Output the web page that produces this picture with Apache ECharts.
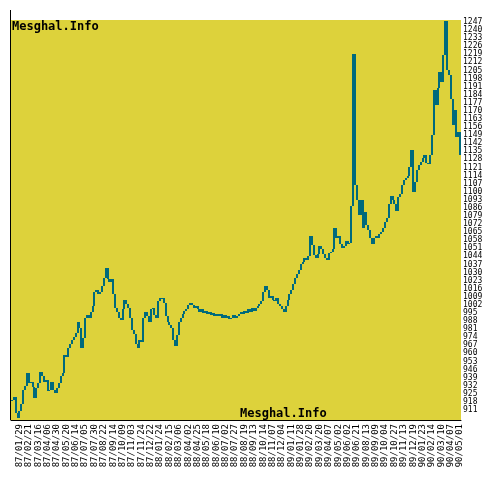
<!DOCTYPE html>
<html>
<head>
<meta charset="utf-8">
<script src="https://cdn.jsdelivr.net/npm/echarts@6/dist/echarts.min.js"></script>
<style>
html, body { margin: 0; padding: 0; background: #fff; }
#chart { width: 500px; height: 500px; }
</style>
</head>
<body>
<div id="chart"></div>
<script>
// date labels shown under the axis, one every 5 points
const dates = ['87/01/29','87/02/21','87/03/16','87/04/06','87/04/30','87/05/20','87/06/14','87/07/05','87/07/30','87/08/22',
    '87/09/14','87/10/09','87/11/03','87/11/24','87/12/22','88/01/24','88/02/15','88/03/06','88/04/02','88/04/25',
    '88/05/18','88/06/10','88/07/02','88/07/27','88/08/19','88/09/13','88/10/14','88/11/07','88/12/04','89/01/11',
    '89/01/28','89/02/20','89/03/20','89/04/07','89/05/02','89/06/02','89/06/21','89/08/13','89/09/09','89/10/04',
    '89/10/27','89/11/13','89/12/19','90/01/23','90/02/14','90/03/10','90/04/07','90/05/01']

const priceTicks = [911, 918, 925, 932, 939, 946, 953, 960, 967, 974, 981, 988, 995, 1002, 1009, 1016, 1023,
    1030, 1037, 1044, 1051, 1058, 1065, 1072, 1079, 1086, 1093, 1100, 1107, 1114, 1121, 1128, 1135, 1142,
    1149, 1156, 1163, 1170, 1177, 1184, 1191, 1198, 1205, 1212, 1219, 1226, 1233, 1240, 1247]

const prices = [
    920, 922, 908, 904, 910, 916, 928, 932, 943, 934,
    935, 931, 921, 930, 934, 944, 940, 935, 937, 927,
    928, 935, 928, 926, 930, 934, 940, 943, 959, 957,
    965, 968, 972, 974, 978, 987, 982, 965, 973, 991,
    993, 991, 996, 1001, 1013, 1015, 1011, 1013, 1018, 1025,
    1034, 1024, 1022, 1024, 1011, 999, 996, 991, 989, 998,
    1006, 1003, 999, 991, 980, 977, 968, 965, 972, 970,
    991, 996, 992, 987, 998, 999, 993, 991, 1005, 1008,
    1008, 1004, 992, 987, 985, 982, 972, 966, 976, 987,
    991, 994, 997, 998, 1002, 1004, 1002, 999, 1001, 998,
    996, 998, 995, 997, 994, 996, 993, 995, 992, 994,
    992, 994, 991, 993, 991, 992, 990, 991, 993, 991,
    992, 994, 996, 994, 997, 995, 998, 996, 999, 997,
    999, 1001, 1003, 1005, 1013, 1018, 1015, 1008, 1010, 1006,
    1005, 1008, 1003, 1001, 998, 996, 1001, 1006, 1011, 1015,
    1020, 1025, 1029, 1032, 1037, 1039, 1043, 1041, 1044, 1062,
    1054, 1045, 1043, 1046, 1053, 1050, 1046, 1043, 1041, 1047,
    1048, 1050, 1069, 1060, 1062, 1055, 1051, 1053, 1057, 1055,
    1056, 1088, 1219, 1106, 1093, 1080, 1093, 1069, 1082, 1071,
    1067, 1060, 1055, 1060, 1062, 1060, 1063, 1065, 1069, 1074,
    1077, 1089, 1096, 1093, 1089, 1083, 1095, 1098, 1106, 1110,
    1112, 1114, 1121, 1136, 1100, 1108, 1119, 1123, 1126, 1129,
    1132, 1125, 1124, 1132, 1149, 1188, 1175, 1190, 1204, 1195,
    1218, 1248, 1205, 1201, 1180, 1158, 1171, 1147, 1152, 1132
]

const LABEL_START = 4
const LABEL_STEP = 5
const BAR_COLOR = '#006A7C'

// each bar runs from the previous price to the current one
const bars = prices.map((p, i) => [i, i > 0 ? prices[i - 1] : p, p])

const renderBar = (params, api) => {
    const a = api.value(1)
    const b = api.value(2)
    const top = api.coord([api.value(0), Math.max(a, b)])
    const bottom = api.coord([api.value(0), Math.min(a, b)])
    const y = Math.round(top[1])
    return {
        type: 'rect',
        shape: {
            x: Math.round(top[0]) - 1,
            y: y,
            width: 2,
            height: Math.max(1, Math.round(bottom[1]) - y)
        },
        style: { fill: BAR_COLOR }
    }
}

const chart = echarts.init(document.getElementById('chart'))

const option = {
    backgroundColor: '#ffffff',
    animation: false,
    grid: {
        left: 11,
        right: 39,
        top: 20,
        bottom: 80,
        show: true,
        backgroundColor: '#DDD23B',
        borderWidth: 0
    },
    xAxis: {
        type: 'category',
        data: prices.map((p, i) => i),
        boundaryGap: true,
        axisLine: { show: true, lineStyle: { color: '#000', width: 1 } },
        axisTick: { show: false },
        splitLine: { show: false },
        axisLabel: {
            rotate: 90,
            margin: 4,
            color: '#000',
            fontFamily: 'DejaVu Sans Mono',
            fontSize: 9,
            interval: (index) => index >= LABEL_START && (index - LABEL_START) % LABEL_STEP === 0,
            formatter: (value, index) => dates[(index - LABEL_START) / LABEL_STEP] || ''
        }
    },
    yAxis: {
        type: 'value',
        position: 'right',
        min: 902.3,
        max: 1248.7,
        axisLine: { show: false },
        axisTick: { show: false },
        splitLine: { show: false },
        axisLabel: {
            customValues: priceTicks,
            margin: 2,
            color: '#000',
            fontFamily: 'DejaVu Sans Mono',
            fontSize: 8,
            formatter: (value) => String(value)
        }
    },
    graphic: [
        {
            type: 'line',
            shape: { x1: 10.5, y1: 10, x2: 10.5, y2: 420 },
            style: { stroke: '#000', lineWidth: 1 }
        },
        {
            type: 'text',
            left: 12,
            top: 21,
            style: { text: 'Mesghal.Info', fill: '#000', font: 'bold 12px "DejaVu Sans Mono"' }
        },
        {
            type: 'text',
            left: 240,
            top: 408,
            style: { text: 'Mesghal.Info', fill: '#000', font: 'bold 12px "DejaVu Sans Mono"' }
        }
    ],
    series: [
        {
            type: 'custom',
            data: bars,
            encode: { x: 0, y: [1, 2] },
            renderItem: renderBar
        }
    ]
}

chart.setOption(option)
</script>
</body>
</html>
